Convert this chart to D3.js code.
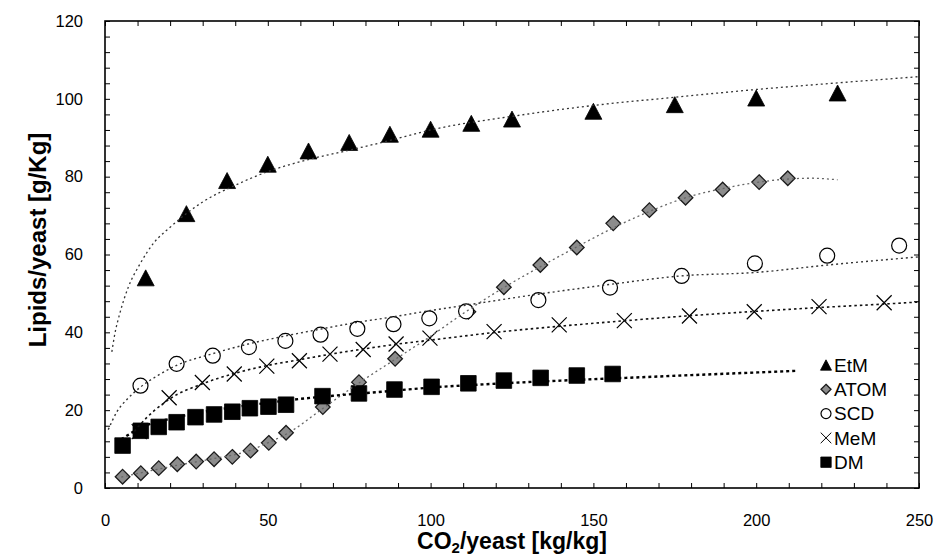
<!DOCTYPE html>
<html>
<head>
<meta charset="utf-8">
<script src="https://cdnjs.cloudflare.com/ajax/libs/d3/7.8.5/d3.min.js"></script>
<style>
body { margin:0; background:#fff; }
text { font-family: Arial, "Liberation Sans", sans-serif; }
</style>
</head>
<body>
<svg id="chart"></svg>
<script>
// measured points, x = CO2/yeast, y = lipids/yeast

var etmX = [12.5,25,37.5,50,62.5,75,87.5,100,112.5,125,150,175,200,225]
var etmY = [54,70.5,79,83.2,86.6,88.8,90.9,92.2,93.7,94.8,96.8,98.5,100.2,101.5]

var atomX = [5.4,11,16.5,22.2,28,33.5,39.1,44.7,50.3,55.6,66.9,78,89.1,111.6,122.5,133.7,144.9,156.1,167.2,178.3,189.7,200.9,209.7]
var atomY = [2.9,3.8,5.1,6.1,6.8,7.4,8.0,9.6,11.6,14.2,20.8,27.2,33.2,45.3,51.6,57.3,61.8,68,71.4,74.6,76.7,78.6,79.6]

var scdX = [10.9,22,33.1,44.2,55.4,66.2,77.5,88.6,99.6,110.9,133.1,155.1,177.1,199.6,221.8,243.9]
var scdY = [26.3,31.9,34,36.2,37.8,39.4,40.9,42.1,43.6,45.4,48.3,51.5,54.5,57.7,59.7,62.3]

var memX = [10.5,19.7,29.9,39.7,49.7,59.7,69.1,79.3,89.4,99.8,119.5,139.5,159.5,179.5,199.4,219.3,239.3]
var memY = [14.5,23.2,27.1,29.3,31.3,32.7,34.4,35.6,37,38.5,40.2,41.9,43,44.2,45.3,46.6,47.6]

var dmX = [5.4,11,16.5,22,27.8,33.5,39.1,44.5,50.2,55.6,66.8,78,88.9,100.3,111.6,122.5,133.8,144.9,155.9]
var dmY = [10.9,14.7,15.7,16.9,18.2,18.9,19.6,20.5,20.9,21.4,23.6,24.3,25.3,26,26.9,27.6,28.3,28.9,29.3]

// dotted trend lines
var etmFitX = [2.1,3,4.6,7.2,10.7,15,20,30,40,50,62,75,87,100,125,150,175,200,225,250]
var etmFitY = [35,39.5,45,51.7,57.5,63,67,73.5,77.8,81.3,84.3,86.8,89.2,92,95.5,98.3,100.4,102.4,104.1,105.7]

var atomFitX = [5,11,22,33,44,50,56,67,78,89,100,111,122.5,134,145,156,167,178,190,200,210,217,225]
var atomFitY = [2.8,3.9,5.8,7.5,9.5,11.6,14,20.5,27,33,39,45.4,51.5,57,62,66.8,71,74.5,77,78.5,79.4,79.6,79.2]

var scdFitX = [1,3.6,7,11,16.4,22,33,44,55,66,77,88.6,100,111,133,155,177,200,222,250]
var scdFitY = [15,19.5,23,26,29,31.5,34.5,37,39,40.8,42.5,44,45.6,47,49.8,52.3,54.5,55.4,57.3,59.4]

var memFitX = [9,10.5,19.7,30,40,50,60,70,80,90,100,120,140,160,180,200,220,240,250]
var memFitY = [14.5,16,22.8,26.8,29.5,31.5,33,34.5,35.8,37,38,40,41.6,43,44.3,45.4,46.4,47.3,47.8]

var dmFitX = [5,11,20,30,40,50,60,70,80,90,100,120,140,160,180,212]
var dmFitY = [12.5,15.5,17.8,19.5,20.8,21.9,22.9,23.7,24.4,25.1,25.8,26.8,27.6,28.3,29,30.1]

var xTicks = [0,50,100,150,200,250]
var yTicks = [0,20,40,60,80,100,120]
var legendNames = ["EtM","ATOM","SCD","MeM","DM"]

var screen = {width:938,height:557}
var plot = {left:105,right:919,top:21,bottom:488}

var svg = d3.select("#chart")
    .attr("width",screen.width)
    .attr("height",screen.height)

var xScale = d3.scaleLinear().domain([0,250]).range([plot.left,plot.right])
var yScale = d3.scaleLinear().domain([0,120]).range([plot.bottom,plot.top])

var pairs = function(xs, ys)
{
    return xs.map(function(d,i){ return [d, ys[i]] })
}

// marker shapes
var triPath = function(s){ return "M0,"+(-s)+"L"+(s*1.06)+","+s+"L"+(-s*1.06)+","+s+"Z" }
var diaPath = function(s){ return "M0,"+(-s)+"L"+s+",0L0,"+s+"L"+(-s)+",0Z" }
var sqPath = function(s){ return "M"+(-s)+","+(-s)+"H"+s+"V"+s+"H"+(-s)+"Z" }
var xPath = function(s){ return "M"+(-s)+","+(-s)+"L"+s+","+s+"M"+s+","+(-s)+"L"+(-s)+","+s }
var circPath = function(s){ return "M"+s+",0A"+s+","+s+" 0 1,1 "+(-s)+",0A"+s+","+s+" 0 1,1 "+s+",0Z" }

var styles = {
    EtM: {path:triPath, size:8, fill:"#000", stroke:"#000", sw:0.8},
    ATOM: {path:diaPath, size:7.3, fill:"#8c8c8c", stroke:"#1a1a1a", sw:1.3},
    SCD: {path:circPath, size:7.5, fill:"#fff", stroke:"#000", sw:1.2},
    MeM: {path:xPath, size:7.5, fill:"none", stroke:"#000", sw:1.2},
    DM: {path:sqPath, size:7.8, fill:"#000", stroke:"#000", sw:0.8}
}

// axes and ticks (inward)
var axisG = svg.append("g").attr("class","axis")

var drawTicks = function(gen, tx, ty)
{
    axisG.append("g")
        .attr("transform","translate("+tx+","+ty+")")
        .call(gen)
        .call(function(g){ g.select(".domain").remove() })
        .selectAll("line").attr("stroke","#000").attr("stroke-width",1)
}

drawTicks(d3.axisBottom(xScale).tickValues(d3.range(0,251,10)).tickSize(-5).tickFormat(""), 0, plot.bottom)
drawTicks(d3.axisTop(xScale).tickValues(d3.range(0,251,10)).tickSize(-5).tickFormat(""), 0, plot.top)
drawTicks(d3.axisLeft(yScale).tickValues(d3.range(0,121,4)).tickSize(-5).tickFormat(""), plot.left, 0)
drawTicks(d3.axisRight(yScale).tickValues(d3.range(0,121,4)).tickSize(-5).tickFormat(""), plot.right, 0)

var xLab = axisG.append("g")
    .attr("transform","translate(0,"+(plot.bottom+26)+")")
    .call(d3.axisBottom(xScale).tickValues(xTicks).tickSize(0).tickPadding(0))
xLab.select(".domain").remove()
xLab.selectAll("text").attr("font-size",16.5).attr("font-family","Arial, Liberation Sans, sans-serif").attr("fill","#000")

var yLab = axisG.append("g")
    .attr("transform","translate("+(plot.left-22)+",0)")
    .call(d3.axisLeft(yScale).tickValues(yTicks).tickSize(0).tickPadding(0))
yLab.select(".domain").remove()
yLab.selectAll("text").attr("font-size",16.5).attr("font-family","Arial, Liberation Sans, sans-serif").attr("fill","#000")

// trend lines
var line = d3.line()
    .x(function(d){ return xScale(d[0]) })
    .y(function(d){ return yScale(d[1]) })
    .curve(d3.curveMonotoneX)

var drawFit = function(data, color, width, dash)
{
    svg.append("path")
        .datum(data)
        .attr("d",line)
        .attr("fill","none")
        .attr("stroke",color)
        .attr("stroke-width",width)
        .attr("stroke-dasharray",dash)
}

// markers
var drawMarks = function(name, data)
{
    var st = styles[name]
    svg.append("g")
        .selectAll("path")
        .data(data)
        .enter()
        .append("path")
        .attr("transform",function(d){ return "translate("+xScale(d[0])+","+yScale(d[1])+")" })
        .attr("d",st.path(st.size))
        .attr("fill",st.fill)
        .attr("stroke",st.stroke)
        .attr("stroke-width",st.sw)
}

drawMarks("EtM", pairs(etmX, etmY))
drawMarks("ATOM", pairs(atomX, atomY))
drawMarks("SCD", pairs(scdX, scdY))
drawMarks("MeM", pairs(memX, memY))
drawMarks("DM", pairs(dmX, dmY))

drawFit(pairs(etmFitX, etmFitY), "#333", 1.3, "2,3")
drawFit(pairs(atomFitX, atomFitY), "#666", 1.3, "2,3")
drawFit(pairs(scdFitX, scdFitY), "#333", 1.4, "2,3")
drawFit(pairs(memFitX, memFitY), "#111", 1.6, "2.5,3")
drawFit(pairs(dmFitX, dmFitY), "#000", 2.4, "3,3")

// frame
svg.append("rect")
    .attr("x",plot.left)
    .attr("y",plot.top)
    .attr("width",plot.right-plot.left)
    .attr("height",plot.bottom-plot.top)
    .attr("fill","none")
    .attr("stroke","#000")
    .attr("stroke-width",1.6)

// legend
var legend = svg.append("g").attr("transform","translate(826,365)")
legendNames.forEach(function(name, i)
{
    var st = styles[name]
    var g = legend.append("g").attr("transform","translate(0,"+(i*24.3)+")")
    g.append("path")
        .attr("d",st.path(name=="MeM" ? 5.3 : name=="SCD" ? 5 : name=="ATOM" ? 5 : 5.2))
        .attr("fill",st.fill)
        .attr("stroke",st.stroke)
        .attr("stroke-width",name=="MeM" ? 1 : st.sw)
    g.append("text")
        .attr("x",8)
        .attr("y",0)
        .attr("dy","0.36em")
        .attr("font-size",19)
        .text(name)
})

// axis titles
var xTitle = svg.append("text")
    .attr("x",(plot.left+plot.right)/2)
    .attr("y",549)
    .attr("text-anchor","middle")
    .attr("font-size",23)
    .attr("font-weight","bold")
xTitle.append("tspan").text("CO")
xTitle.append("tspan").attr("font-size",15).attr("dy",4).text("2")
xTitle.append("tspan").attr("dy",-4).text("/yeast [kg/kg]")

svg.append("text")
    .attr("transform","translate(37,240) rotate(-90)")
    .attr("text-anchor","middle")
    .attr("dy","0.36em")
    .attr("font-size",24)
    .attr("font-weight","bold")
    .text("Lipids/yeast [g/Kg]")
</script>
</body>
</html>
